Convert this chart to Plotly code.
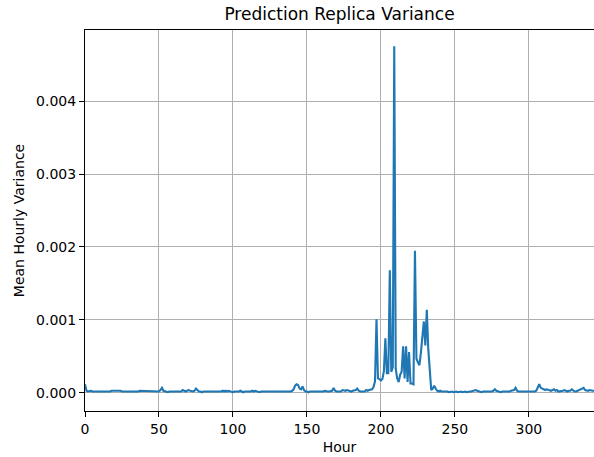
import plotly.graph_objects as go

# Hour index and mean hourly replica variance
hours = list(range(0, 345))
variance = [
    # 0-9
    12e-5, 3e-5, 2e-5, 3e-5, 3e-5, 2e-5, 2e-5, 2e-5, 1e-5, 2e-5,
    # 10-19
    2e-5, 1e-5, 1e-5, 2e-5, 2e-5, 1e-5, 2e-5, 2e-5, 3e-5, 3e-5,
    # 20-29
    4e-5, 3e-5, 4e-5, 3e-5, 3e-5, 2e-5, 2e-5, 2e-5, 1e-5, 2e-5,
    # 30-39
    2e-5, 1e-5, 2e-5, 2e-5, 1e-5, 2e-5, 2e-5, 3e-5, 3e-5, 2e-5,
    # 40-49
    3e-5, 2e-5, 2e-5, 3e-5, 2e-5, 3e-5, 3e-5, 2e-5, 3e-5, 2e-5,
    # 50-59
    2e-5, 4e-5, 7e-5, 3e-5, 2e-5, 2e-5, 1e-5, 2e-5, 2e-5, 1e-5,
    # 60-69
    2e-5, 2e-5, 1e-5, 2e-5, 2e-5, 2e-5, 4e-5, 3e-5, 2e-5, 3e-5,
    # 70-79
    4e-5, 3e-5, 2e-5, 2e-5, 3e-5, 6e-5, 4e-5, 2e-5, 2e-5, 1e-5,
    # 80-89
    2e-5, 2e-5, 1e-5, 2e-5, 2e-5, 2e-5, 1e-5, 2e-5, 2e-5, 1e-5,
    # 90-99
    2e-5, 2e-5, 2e-5, 3e-5, 2e-5, 3e-5, 2e-5, 3e-5, 2e-5, 2e-5,
    # 100-109
    1e-5, 2e-5, 2e-5, 1e-5, 2e-5, 3e-5, 2e-5, 1e-5, 2e-5, 2e-5,
    # 110-119
    1e-5, 2e-5, 2e-5, 3e-5, 2e-5, 3e-5, 2e-5, 2e-5, 1e-5, 2e-5,
    # 120-129
    2e-5, 1e-5, 2e-5, 2e-5, 1e-5, 2e-5, 2e-5, 1e-5, 2e-5, 2e-5,
    # 130-139
    1e-5, 2e-5, 2e-5, 1e-5, 2e-5, 2e-5, 2e-5, 1e-5, 2e-5, 2e-5,
    # 140-149
    3e-5, 5e-5, 10e-5, 12e-5, 11e-5, 6e-5, 5e-5, 9e-5, 4e-5, 2e-5,
    # 150-159
    2e-5, 1e-5, 2e-5, 2e-5, 1e-5, 2e-5, 2e-5, 1e-5, 2e-5, 2e-5,
    # 160-169
    2e-5, 2e-5, 3e-5, 2e-5, 2e-5, 2e-5, 2e-5, 3e-5, 7e-5, 3e-5,
    # 170-179
    2e-5, 2e-5, 3e-5, 2e-5, 4e-5, 3e-5, 3e-5, 4e-5, 3e-5, 3e-5,
    # 180-189
    2e-5, 3e-5, 3e-5, 4e-5, 6e-5, 3e-5, 2e-5, 2e-5, 3e-5, 2e-5,
    # 190-199
    4e-5, 3e-5, 4e-5, 4e-5, 5e-5, 8e-5, 16e-5, 101e-5, 20e-5, 19e-5,
    # 200-209
    17e-5, 19e-5, 30e-5, 75e-5, 27e-5, 27e-5, 168e-5, 29e-5, 35e-5, 475e-5,
    # 210-219
    33e-5, 20e-5, 15e-5, 25e-5, 29e-5, 64e-5, 20e-5, 64e-5, 15e-5, 56e-5,
    # 220-229
    13e-5, 13e-5, 12e-5, 195e-5, 47e-5, 42e-5, 38e-5, 55e-5, 75e-5, 98e-5,
    # 230-239
    65e-5, 114e-5, 60e-5, 30e-5, 4e-5, 6e-5, 10e-5, 6e-5, 3e-5, 2e-5,
    # 240-249
    3e-5, 2e-5, 2e-5, 3e-5, 2e-5, 2e-5, 1e-5, 2e-5, 2e-5, 1e-5,
    # 250-259
    2e-5, 2e-5, 1e-5, 2e-5, 2e-5, 1e-5, 2e-5, 2e-5, 1e-5, 2e-5,
    # 260-269
    2e-5, 2e-5, 3e-5, 3e-5, 4e-5, 3e-5, 2e-5, 2e-5, 1e-5, 2e-5,
    # 270-279
    2e-5, 1e-5, 2e-5, 2e-5, 2e-5, 2e-5, 3e-5, 5e-5, 3e-5, 2e-5,
    # 280-289
    2e-5, 1e-5, 2e-5, 2e-5, 1e-5, 2e-5, 2e-5, 2e-5, 3e-5, 3e-5,
    # 290-299
    4e-5, 7e-5, 3e-5, 2e-5, 2e-5, 1e-5, 2e-5, 2e-5, 1e-5, 2e-5,
    # 300-309
    2e-5, 2e-5, 1e-5, 2e-5, 2e-5, 3e-5, 7e-5, 12e-5, 7e-5, 6e-5,
    # 310-319
    4e-5, 4e-5, 5e-5, 4e-5, 4e-5, 3e-5, 4e-5, 5e-5, 3e-5, 4e-5,
    # 320-329
    2e-5, 2e-5, 2e-5, 3e-5, 4e-5, 3e-5, 2e-5, 3e-5, 3e-5, 5e-5,
    # 330-339
    3e-5, 2e-5, 2e-5, 3e-5, 4e-5, 4e-5, 6e-5, 7e-5, 4e-5, 3e-5,
    # 340-344
    3e-5, 4e-5, 3e-5, 3e-5, 3e-5,
]

x_ticks = [0, 50, 100, 150, 200, 250, 300]
y_ticks = [0.000, 0.001, 0.002, 0.003, 0.004]

title_text = "Prediction Replica Variance"
x_label = "Hour"
y_label = "Mean Hourly Variance"

FONT = "DejaVu Sans"

fig = go.Figure()
fig.add_trace(go.Scatter(
    x=hours, y=variance, mode="lines",
    line=dict(color="#1f77b4", width=2.1),
    showlegend=False,
))

axis_common = dict(
    showline=True, linecolor="black", linewidth=1.1, mirror=True,
    ticks="outside", ticklen=5, tickwidth=1.1, tickcolor="black",
    showgrid=True, gridcolor="#b0b0b0", gridwidth=1.1,
    zeroline=False,
    tickfont=dict(family=FONT, size=14, color="black"),
)

fig.update_layout(
    width=594, height=457,
    margin=dict(l=85, r=0, t=30, b=46),
    paper_bgcolor="white", plot_bgcolor="white",
    title=dict(
        text=title_text, x=0.5, xref="paper", xanchor="center",
        y=1 - 14 / 457, yref="container", yanchor="middle",
        font=dict(family=FONT, size=17, color="black"),
    ),
    xaxis=dict(
        range=[0, 344], tickvals=x_ticks,
        title=dict(text=x_label, standoff=6,
                   font=dict(family=FONT, size=14, color="black")),
        **axis_common,
    ),
    yaxis=dict(
        range=[-0.000247, 0.004973], tickvals=y_ticks, tickformat=".3f",
        title=dict(text=y_label, standoff=8,
                   font=dict(family=FONT, size=14, color="black")),
        **axis_common,
    ),
)

fig.write_html("out.html")
